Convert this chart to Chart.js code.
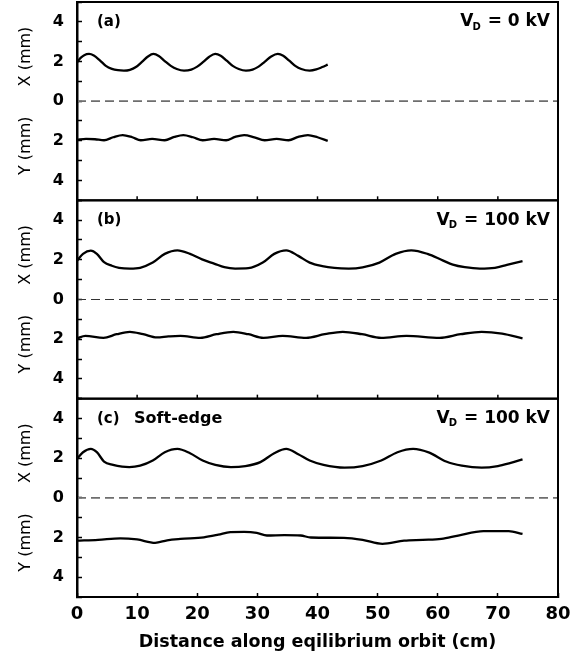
<!DOCTYPE html>
<html><head><meta charset="utf-8">
<script src="https://cdn.jsdelivr.net/npm/chart.js@4/dist/chart.umd.min.js"></script>
<style>html,body{margin:0;padding:0;background:#fff}canvas{display:block}</style>
</head><body>
<canvas id="c" width="583" height="659"></canvas>
<script>
// ---- text ----
const panelIds = ['ya', 'yb', 'yc'];
const panelTags = ['(a)', '(b)', '(c)'];
const panelNotes = ['', '', 'Soft-edge'];
const panelVoltages = ['0', '100', '100'];
const xAxisTitle = 'Distance along eqilibrium orbit (cm)';
const yTitleUpper = 'X (mm)';
const yTitleLower = 'Y (mm)';

// ---- reference (zero) line ----
const zeroLineS = [0, 80];
const zeroLineV = [0, 0];

// ---- panel (a): V_D = 0 kV ----
const aX_s = [0, 0.6, 1.2, 2.0, 2.8, 3.8, 4.8, 5.8, 6.8, 7.8, 8.8, 9.8, 10.8, 11.8, 12.7, 13.6, 14.6, 15.6, 16.6, 17.8, 19.0, 20.0, 21.0, 22.0, 23.0, 23.9, 24.9, 25.9, 26.9, 28.1, 29.2, 30.2, 31.2, 32.3, 33.4, 34.3, 35.3, 36.3, 37.3, 38.7, 39.8, 40.8, 41.7];
const aX_v = [1.96, 2.18, 2.32, 2.38, 2.30, 2.06, 1.78, 1.63, 1.56, 1.54, 1.58, 1.72, 1.98, 2.25, 2.38, 2.28, 2.02, 1.78, 1.62, 1.54, 1.59, 1.74, 1.98, 2.24, 2.38, 2.29, 2.04, 1.78, 1.62, 1.54, 1.59, 1.74, 1.98, 2.25, 2.38, 2.29, 2.04, 1.78, 1.62, 1.54, 1.60, 1.72, 1.84];
const aY_s = [0, 1.5, 3.0, 4.5, 6.0, 7.6, 9.2, 10.6, 12.5, 14.6, 16.2, 17.7, 19.3, 20.9, 22.8, 24.8, 26.3, 27.8, 29.5, 31.2, 33.2, 35.2, 36.8, 38.4, 40.0, 41.7];
const aY_v = [-1.95, -1.90, -1.92, -1.97, -1.82, -1.71, -1.82, -1.97, -1.90, -1.97, -1.80, -1.71, -1.82, -1.97, -1.90, -1.97, -1.80, -1.71, -1.82, -1.97, -1.90, -1.97, -1.80, -1.71, -1.82, -2.00];

// ---- panel (b): V_D = 100 kV ----
const bX_s = [0, 1.0, 2.3, 3.3, 4.5, 5.8, 7.0, 8.8, 10.5, 12.6, 14.6, 16.7, 18.8, 20.8, 22.9, 24.5, 26.3, 28.5, 30.9, 32.8, 34.8, 36.8, 38.7, 40.8, 42.8, 45.2, 47.5, 50.3, 53.0, 55.6, 58.3, 60.9, 62.5, 64.5, 67.0, 69.5, 71.5, 74.1];
const bX_v = [1.96, 2.30, 2.46, 2.30, 1.88, 1.70, 1.60, 1.56, 1.60, 1.86, 2.30, 2.48, 2.30, 2.02, 1.80, 1.63, 1.56, 1.58, 1.86, 2.30, 2.48, 2.20, 1.86, 1.68, 1.59, 1.56, 1.62, 1.86, 2.30, 2.48, 2.30, 1.96, 1.76, 1.63, 1.56, 1.60, 1.74, 1.93];
const bY_s = [0, 1.4, 4.4, 6.6, 8.8, 11.0, 13.3, 15.2, 17.2, 20.5, 23.2, 26.0, 28.5, 31.0, 34.2, 38.1, 41.2, 44.2, 47.4, 50.6, 54.8, 60.3, 63.8, 67.3, 70.7, 74.1];
const bY_v = [-1.96, -1.83, -1.93, -1.75, -1.63, -1.75, -1.91, -1.86, -1.83, -1.93, -1.75, -1.63, -1.75, -1.93, -1.83, -1.93, -1.75, -1.63, -1.75, -1.93, -1.83, -1.93, -1.75, -1.63, -1.72, -1.96];

// ---- panel (c): soft-edge, V_D = 100 kV ----
const cX_s = [0, 1.0, 2.3, 3.3, 4.5, 6.0, 7.5, 8.7, 10.5, 12.6, 14.6, 16.7, 18.8, 20.9, 23.0, 25.6, 28.0, 30.5, 32.8, 34.8, 36.8, 38.7, 41.0, 44.5, 47.5, 50.6, 53.3, 55.9, 58.6, 61.4, 64.0, 67.3, 70.0, 72.0, 74.1];
const cX_v = [1.97, 2.30, 2.47, 2.30, 1.83, 1.66, 1.57, 1.55, 1.62, 1.88, 2.30, 2.47, 2.25, 1.88, 1.66, 1.55, 1.60, 1.80, 2.25, 2.47, 2.20, 1.88, 1.66, 1.52, 1.60, 1.88, 2.30, 2.47, 2.28, 1.83, 1.62, 1.52, 1.60, 1.75, 1.94];
const cY_s = [0, 3.5, 7.2, 10.0, 13.0, 15.0, 17.2, 21.1, 23.5, 25.5, 27.8, 29.9, 31.6, 34.5, 37.2, 38.9, 44.4, 47.5, 50.8, 54.4, 57.5, 60.6, 63.4, 67.6, 71.8, 74.1];
const cY_v = [-2.16, -2.12, -2.04, -2.10, -2.27, -2.14, -2.07, -1.99, -1.86, -1.73, -1.72, -1.77, -1.90, -1.88, -1.90, -2.00, -2.02, -2.12, -2.32, -2.16, -2.12, -2.07, -1.90, -1.68, -1.68, -1.82];

// ---- axis ticks ----
const xMin = 0, xMax = 80, xStep = 10;
const yMin = -5, yMax = 5, yStep = 1;

const FONT = '"DejaVu Sans", "Liberation Sans", Arial, sans-serif';
const pts = (s, v) => s.map((x, i) => ({x: x, y: v[i]}));

function curve(s, v, axis) {
  return {data: pts(s, v), yAxisID: axis, borderColor: '#000', borderWidth: 2.3,
    pointRadius: 0, fill: false, cubicInterpolationMode: 'monotone', order: 1};
}
function zero(axis, color, width) {
  return {data: pts(zeroLineS, zeroLineV), yAxisID: axis, borderColor: color, borderWidth: width,
    borderDash: [9, 5], pointRadius: 0, fill: false, order: 2};
}

function yScale() {
  return {
    type: 'linear', position: 'left', stack: 'panels', stackWeight: 1,
    min: yMin, max: yMax,
    border: {display: true, color: '#000', width: 2.5},
    grid: {drawOnChartArea: false, drawTicks: true, tickLength: -5, tickColor: '#000', tickWidth: 1.5},
    ticks: {stepSize: yStep, autoSkip: false, padding: 18, color: '#000',
      font: {family: FONT, size: 16, weight: 'bold'},
      callback: (v) => (v % 2 === 0 && Math.abs(v) < 5) ? String(Math.abs(v)) : ''},
    afterFit: (s) => { s.width = 77; s.paddingTop = 0; s.paddingBottom = 0; }
  };
}

const decor = {
  id: 'decor',
  afterDatasetsDraw(chart) {
    const ctx = chart.ctx, ca = chart.chartArea, xs = chart.scales.x;
    ctx.save();
    panelIds.forEach((id, i) => {
      const s = chart.scales[id];
      ctx.strokeStyle = '#000';
      ctx.lineWidth = 2;
      ctx.strokeRect(ca.left, s.top, ca.right - ca.left, s.bottom - s.top);
      if (i < 2) {
        ctx.lineWidth = 1.5;
        xs.ticks.forEach(t => {
          if (t.value > xMin && t.value < xMax) {
            const px = xs.getPixelForValue(t.value);
            ctx.beginPath(); ctx.moveTo(px, s.bottom); ctx.lineTo(px, s.bottom - 4); ctx.stroke();
          }
        });
      }
      ctx.fillStyle = '#000';
      ctx.textBaseline = 'middle';
      ctx.textAlign = 'left';
      const ty = s.top + 20;
      ctx.font = 'bold 15px ' + FONT;
      ctx.fillText(panelTags[i], ca.left + 20, ty);
      if (panelNotes[i]) {
        ctx.font = 'bold 16px ' + FONT;
        ctx.fillText(panelNotes[i], ca.left + 57, ty);
      }
      // V_D = ... kV, right aligned
      const big = 'bold 17px ' + FONT, small = 'bold 10px ' + FONT;
      const rest = ' = ' + panelVoltages[i] + ' kV';
      ctx.font = big; const wV = ctx.measureText('V').width; const wR = ctx.measureText(rest).width;
      ctx.font = small; const wD = ctx.measureText('D').width;
      let x0 = ca.right - 8 - (wV + wD + wR);
      ctx.font = big; ctx.fillText('V', x0, ty);
      ctx.font = small; ctx.fillText('D', x0 + wV - 1, ty + 5);
      ctx.font = big; ctx.fillText(rest, x0 + wV + wD, ty);
      // rotated axis titles
      ctx.font = '16px ' + FONT;
      ctx.textAlign = 'center';
      [[yTitleUpper, 2.25], [yTitleLower, -2.25]].forEach(([txt, v]) => {
        ctx.save();
        ctx.translate(26, s.getPixelForValue(v));
        ctx.rotate(-Math.PI / 2);
        ctx.fillText(txt, 0, 0);
        ctx.restore();
      });
    });
    ctx.restore();
  }
};

new Chart(document.getElementById('c'), {
  type: 'line',
  data: {
    datasets: [
      zero('ya', '#6e6e6e', 1.6), zero('yb', '#333', 1.2), zero('yc', '#6e6e6e', 1.6),
      curve(aX_s, aX_v, 'ya'), curve(aY_s, aY_v, 'ya'),
      curve(bX_s, bX_v, 'yb'), curve(bY_s, bY_v, 'yb'),
      curve(cX_s, cX_v, 'yc'), curve(cY_s, cY_v, 'yc')
    ]
  },
  options: {
    responsive: false, animation: false, devicePixelRatio: 1,
    layout: {padding: {top: 2, right: 25, bottom: 0, left: 0}},
    plugins: {legend: {display: false}, tooltip: {enabled: false}},
    scales: {
      x: {
        type: 'linear', position: 'bottom', min: xMin, max: xMax,
        border: {display: true, color: '#000', width: 2},
        grid: {drawOnChartArea: false, drawTicks: true, tickLength: -4, tickColor: '#000', tickWidth: 1.5},
        ticks: {stepSize: xStep, autoSkip: false, padding: 11, color: '#000', maxRotation: 0,
          font: {family: FONT, size: 18, weight: 'bold'}},
        title: {display: true, text: xAxisTitle, color: '#000', padding: {top: 0, bottom: 6},
          font: {family: FONT, size: 17.5, weight: 'bold'}},
        afterFit: (s) => { s.height = 62; }
      },
      yc: yScale(),
      yb: yScale(),
      ya: yScale()
    }
  },
  plugins: [decor]
});
</script>
</body></html>
